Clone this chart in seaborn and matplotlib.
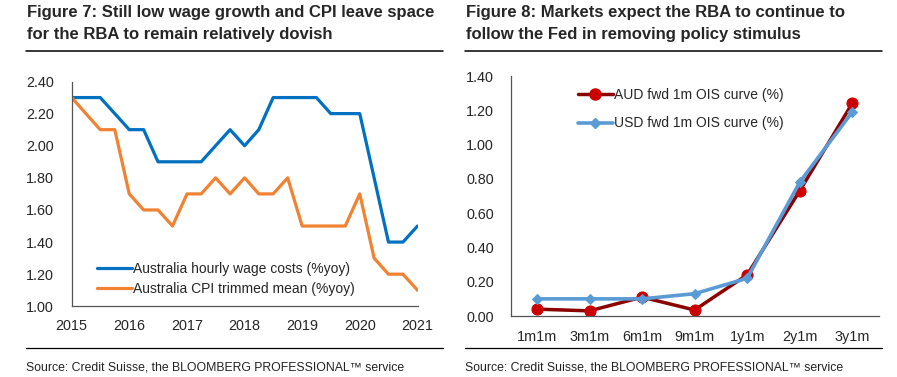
import matplotlib
matplotlib.use("Agg")
import matplotlib.pyplot as plt
from matplotlib.lines import Line2D
import numpy as np
import pandas as pd
import seaborn as sns

# ---------------- data ----------------
quarters = ["2015Q1", "2015Q2", "2015Q3", "2015Q4",
            "2016Q1", "2016Q2", "2016Q3", "2016Q4",
            "2017Q1", "2017Q2", "2017Q3", "2017Q4",
            "2018Q1", "2018Q2", "2018Q3", "2018Q4",
            "2019Q1", "2019Q2", "2019Q3", "2019Q4",
            "2020Q1", "2020Q2", "2020Q3", "2020Q4",
            "2021Q1"]
wage_costs = [2.3, 2.3, 2.3, 2.2, 2.1, 2.1, 1.9, 1.9, 1.9, 1.9, 2.0, 2.1,
              2.0, 2.1, 2.3, 2.3, 2.3, 2.3, 2.2, 2.2, 2.2, 1.8, 1.4, 1.4, 1.5]
cpi_trimmed = [2.3, 2.2, 2.1, 2.1, 1.7, 1.6, 1.6, 1.5, 1.7, 1.7, 1.8, 1.7,
               1.8, 1.7, 1.7, 1.8, 1.5, 1.5, 1.5, 1.5, 1.7, 1.3, 1.2, 1.2, 1.1]
left_series = ["Australia hourly wage costs (%yoy)", "Australia CPI trimmed mean (%yoy)"]
left_yticks = [1.00, 1.20, 1.40, 1.60, 1.80, 2.00, 2.20, 2.40]
year_ticks = ["2015", "2016", "2017", "2018", "2019", "2020", "2021"]

tenors = ["1m1m", "3m1m", "6m1m", "9m1m", "1y1m", "2y1m", "3y1m"]
aud_ois = [0.04, 0.03, 0.11, 0.035, 0.24, 0.73, 1.24]
usd_ois = [0.10, 0.10, 0.10, 0.13, 0.22, 0.78, 1.19]
right_series = ["AUD fwd 1m OIS curve (%)", "USD fwd 1m OIS curve (%)"]
right_yticks = [0.00, 0.20, 0.40, 0.60, 0.80, 1.00, 1.20, 1.40]

title_left = ["Figure 7: Still low wage growth and CPI leave space",
              "for the RBA to remain relatively dovish"]
title_right = ["Figure 8: Markets expect the RBA to continue to",
               "follow the Fed in removing policy stimulus"]
source_text = "Source: Credit Suisse, the BLOOMBERG PROFESSIONAL\u2122 service"

# ---------------- style ----------------
sns.set_style("white")
plt.rcParams["font.family"] = ["Liberation Sans", "DejaVu Sans"]
plt.rcParams["axes.edgecolor"] = "#555555"
plt.rcParams["axes.linewidth"] = 0.9

W, H = 897, 377
fig = plt.figure(figsize=(W / 100, H / 100), dpi=100)


def fx(px):
    return px / W


def fy(py):
    return 1 - py / H


TICK_FS = 10.4

# ---------------- left chart ----------------
dates = pd.PeriodIndex(quarters, freq="Q").to_timestamp()
df_left = pd.DataFrame({
    "date": list(dates) * 2,
    "value": wage_costs + cpi_trimmed,
    "series": [left_series[0]] * len(dates) + [left_series[1]] * len(dates),
})
axL = fig.add_axes([fx(71.7), fy(306.3), fx(417.5) - fx(71.7), fy(81.5) - fy(306.3)])
sns.lineplot(data=df_left, x="date", y="value", hue="series", hue_order=left_series,
             palette=["#0070C0", "#F08232"], linewidth=2.3, ax=axL, legend=False)
axL.set_ylim(1.0, 2.4)
year_dates = [pd.Timestamp(f"{y}-01-01") for y in year_ticks]
axL.set_xlim(year_dates[0], year_dates[-1])
axL.set_xticks(year_dates)
axL.set_xticklabels(year_ticks, fontsize=TICK_FS)
axL.set_yticks(left_yticks)
axL.set_yticklabels([f"{v:.2f}" for v in left_yticks], fontsize=TICK_FS)
axL.tick_params(axis="x", direction="in", length=4, width=0.9, color="#555555", pad=9)
axL.tick_params(axis="y", length=0, pad=13)
axL.set_xlabel("")
axL.set_ylabel("")
for s in ["top", "right"]:
    axL.spines[s].set_visible(False)
handlesL = [Line2D([], [], color="#0070C0", lw=2.3), Line2D([], [], color="#F08232", lw=2.3)]
axL.legend(handlesL, left_series, loc="center left", bbox_to_anchor=(0.073, 0.122),
           frameon=False, fontsize=10, handlelength=2.5, handletextpad=0.1,
           labelspacing=0.45, borderpad=0, borderaxespad=0)

# ---------------- right chart ----------------
df_right = pd.DataFrame({
    "tenor": tenors * 2,
    "value": aud_ois + usd_ois,
    "series": [right_series[0]] * len(tenors) + [right_series[1]] * len(tenors),
})
axR = fig.add_axes([fx(510.7), fy(316), fx(878.5) - fx(510.7), fy(76) - fy(316)])
sns.lineplot(data=df_right[df_right.series == right_series[0]], x="tenor", y="value",
             color="#8B0000", linewidth=2.5, marker="o", markersize=8,
             markerfacecolor="#CC0000", markeredgecolor="#CC0000", ax=axR, sort=False)
sns.lineplot(data=df_right[df_right.series == right_series[1]], x="tenor", y="value",
             color="#5B9BD5", linewidth=2.6, marker="D", markersize=5.5,
             markerfacecolor="#5B9BD5", markeredgecolor="#5B9BD5", ax=axR, sort=False)
axR.set_xlim(-0.5, len(tenors) - 0.5)
axR.set_ylim(0, 1.4)
axR.set_yticks(right_yticks)
axR.set_yticklabels([f"{v:.2f}" for v in right_yticks], fontsize=TICK_FS)
axR.set_xticks(range(len(tenors)))
axR.set_xticklabels(tenors, fontsize=TICK_FS)
axR.tick_params(axis="both", length=0)
axR.tick_params(axis="y", pad=12)
axR.tick_params(axis="x", pad=10)
axR.set_xlabel("")
axR.set_ylabel("")
for s in ["top", "right"]:
    axR.spines[s].set_visible(False)
handlesR = [Line2D([], [], color="#8B0000", lw=2.5, marker="o", markersize=8,
                   markerfacecolor="#CC0000", markeredgecolor="#CC0000"),
            Line2D([], [], color="#5B9BD5", lw=2.6, marker="D", markersize=5.5,
                   markerfacecolor="#5B9BD5", markeredgecolor="#5B9BD5")]
axR.legend(handlesR, right_series, loc="center left", bbox_to_anchor=(0.183, 0.862),
           frameon=False, fontsize=10, handlelength=2.5, handletextpad=0.1,
           labelspacing=1.05, borderpad=0, borderaxespad=0)

# ---------------- titles, rules, sources ----------------
for x0, x1, lines in [(26, 443, title_left), (465, 882, title_right)]:
    fig.text(fx(x0 + 1), fy(16.7), lines[0], fontsize=12, fontweight="bold",
             va="baseline", ha="left")
    fig.text(fx(x0 + 1), fy(38.5), lines[1], fontsize=12, fontweight="bold",
             va="baseline", ha="left")
    fig.add_artist(Line2D([fx(x0), fx(x1)], [fy(51), fy(51)], color="black", lw=1.1))
    fig.add_artist(Line2D([fx(x0), fx(x1)], [fy(348), fy(348)], color="black", lw=0.9))
    fig.text(fx(x0), fy(371), source_text, fontsize=8.85, va="baseline", ha="left",
             color="#222222")

fig.savefig("out.png", dpi=100)
